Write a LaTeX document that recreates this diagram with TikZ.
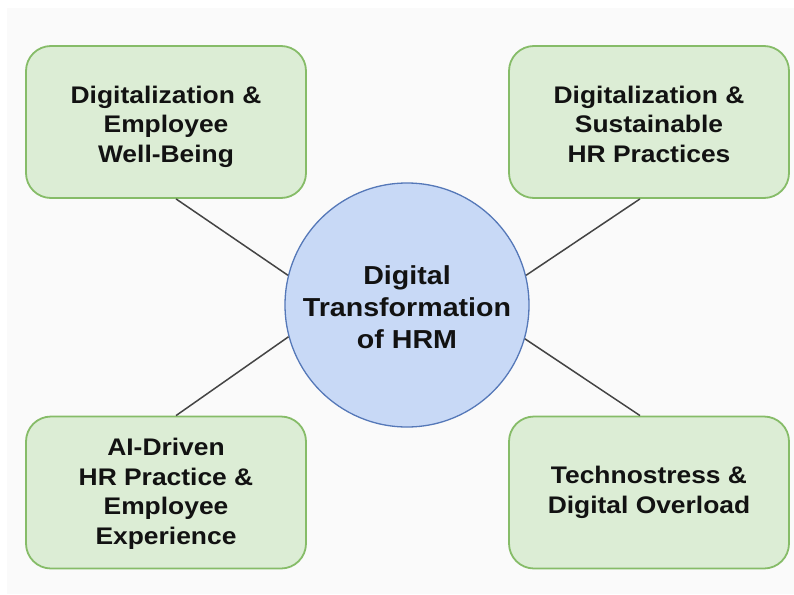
\documentclass[tikz,border=0pt]{standalone}
\usepackage{fontspec}
\newfontfamily\labelfont{Liberation Sans}[FakeStretch=1.1]
\definecolor{boxfill}{HTML}{DCEDD5}
\definecolor{boxline}{HTML}{86BC68}
\definecolor{hubfill}{HTML}{C8D9F6}
\definecolor{hubline}{HTML}{5578B8}
\definecolor{spoke}{HTML}{444444}
\definecolor{paper}{HTML}{FAFAFA}
% centred lines of a label, nudged up or down without changing its size
\newcommand\topiclines[3][0pt]{\raisebox{#1}[\height][\depth]{\parbox{#2}{\centering #3}}}
\begin{document}
\begin{tikzpicture}[x=1pt,y=-1pt,
  topic/.style={draw=boxline, fill=boxfill, line width=1.8pt, rounded corners=25pt,
    minimum width=280pt, minimum height=152pt, inner sep=0pt,
    font=\labelfont\bfseries\fontsize{24}{29.5}\selectfont, text=black!93},
  hub/.style={circle, draw=hubline, fill=hubfill, line width=1.3pt,
    minimum size=244pt, inner sep=0pt,
    font=\labelfont\bfseries\fontsize{26}{32}\selectfont, text=black!93},
  link/.style={draw=spoke, line width=1.5pt}]
  \useasboundingbox (0,0) rectangle (794,594);
  \fill[paper] (7,8) rectangle (794,594);

  \node[hub] (hrm) at (407,305) {\topiclines[-2.5pt]{216pt}{Digital\\Transformation\\of HRM}};

  \node[topic] (wb) at (166,122) {\topiclines[-4.5pt]{270pt}{Digitalization \&\\Employee\\Well-Being}};
  \node[topic] (sus) at (649,122) {\topiclines[-2pt]{270pt}{Digitalization \&\\Sustainable\\HR Practices}};
  \node[topic] (ai) at (166,492.5) {\topiclines[-1.5pt]{270pt}{AI-Driven\\HR Practice \&\\Employee\\Experience}};
  \node[topic] (ts) at (649,492.5) {\topiclines{270pt}{Technostress \&\\Digital Overload}};

  \draw[link] ([xshift=10pt]wb.south) -- (hrm.166);
  \draw[link] ([xshift=-9pt]sus.south) -- (hrm.14);
  \draw[link] ([xshift=10pt]ai.north) -- (hrm.195);
  \draw[link] ([xshift=-9pt]ts.north) -- (hrm.344);
\end{tikzpicture}
\end{document}
